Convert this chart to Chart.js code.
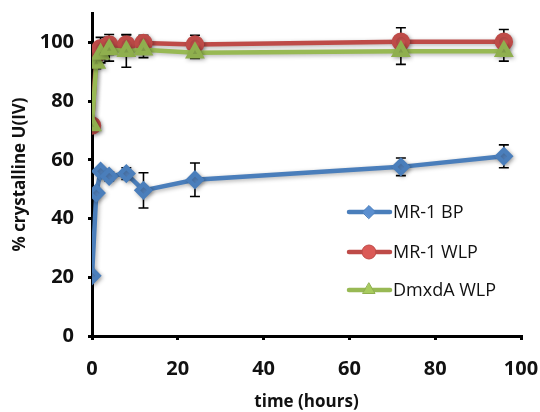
<!DOCTYPE html>
<html>
<head>
<meta charset="utf-8">
<script src="https://cdn.jsdelivr.net/npm/chart.js@4"></script>
<style>
  html, body { margin: 0; padding: 0; background: #fff; }
  canvas { display: block; }
</style>
</head>
<body>
<canvas id="chart" width="540" height="412"></canvas>
<script>
// time points (hours)
const times = [0, 1, 2, 4, 8, 12, 24, 72, 96];

// % crystalline U(IV) for each series
const bpValues  = [20.5, 48.7, 56.1, 54.4, 55.3, 49.6, 53.2, 57.6, 61.2];
const wlpValues = [71.7, 96.0, 98.0, 99.3, 99.3, 99.8, 99.3, 100.2, 100.2];
const dmxValues = [71.7, 93.0, 96.0, 97.6, 97.0, 97.5, 96.5, 97.0, 97.0];

// error bar half-lengths
const bpErr  = [0, 1, 1, 1.5, 2, 6, 5.7, 3, 3.9];
const wlpErr = [0, 0, 3.7, 3.4, 3.4, 2.6, 3.1, 4.8, 4.2];
const dmxErr = [0, 2, 3, 4, 5.5, 2.7, 2, 4.5, 3.4];

const xTicks = [0, 20, 40, 60, 80, 100];
const yTicks = [0, 20, 40, 60, 80, 100];

const seriesNames = ["MR-1 BP", "MR-1 WLP", "DmxdA WLP"];

function pts(vals) {
    return times.map((t, i) => ({ x: t, y: vals[i] }));
}

// error bars, drawn under the markers
const errorBars = {
    id: "errorBars",
    beforeDatasetsDraw(chart) {
        const ctx = chart.ctx;
        const xs = chart.scales.x, ys = chart.scales.y;
        ctx.save();
        ctx.strokeStyle = "#000";
        ctx.lineWidth = 1.6;
        chart.data.datasets.forEach(ds => {
            ds.errors.forEach((e, i) => {
                if (!e) return;
                const px = xs.getPixelForValue(times[i]);
                const top = ys.getPixelForValue(ds.data[i].y + e);
                const bot = ys.getPixelForValue(ds.data[i].y - e);
                ctx.beginPath();
                ctx.moveTo(px, top); ctx.lineTo(px, bot);
                ctx.moveTo(px - 5, top); ctx.lineTo(px + 5, top);
                ctx.moveTo(px - 5, bot); ctx.lineTo(px + 5, bot);
                ctx.stroke();
            });
        });
        ctx.restore();
    }
};

// soft shadow like the excel marker effect
const shadow = {
    id: "shadow",
    beforeDatasetDraw(chart) {
        const ctx = chart.ctx;
        ctx.save();
        ctx.shadowColor = "rgba(0,0,0,0.3)";
        ctx.shadowBlur = 4;
        ctx.shadowOffsetX = 1.5;
        ctx.shadowOffsetY = 1.5;
    },
    afterDatasetDraw(chart) {
        chart.ctx.restore();
    }
};

// legend inside plot area
const innerLegend = {
    id: "innerLegend",
    afterDraw(chart) {
        const ctx = chart.ctx;
        const x0 = 349, rowY = [212, 252, 290];
        ctx.save();
        chart.data.datasets.forEach((ds, i) => {
            const y = rowY[i];
            ctx.strokeStyle = ds.borderColor;
            ctx.lineWidth = 4.5;
            ctx.lineCap = "round";
            ctx.beginPath();
            ctx.moveTo(x0, y); ctx.lineTo(x0 + 41, y);
            ctx.stroke();
            ctx.fillStyle = ds.pointBackgroundColor;
            ctx.strokeStyle = ds.pointBorderColor;
            ctx.lineWidth = 1;
            Chart.helpers.drawPoint(ctx, {
                pointStyle: ds.pointStyle,
                radius: ds.pointRadius,
                borderWidth: 1
            }, x0 + 20, y);
            ctx.fillStyle = "#111";
            ctx.font = "18px 'Open Sans'";
            ctx.textBaseline = "middle";
            ctx.fillText(seriesNames[i], x0 + 44, y + 1);
        });
        ctx.restore();
    }
};

const ctx = document.getElementById("chart").getContext("2d");
const chart = new Chart(ctx, {
    type: "scatter",
    data: {
        datasets: [
            {
                label: seriesNames[0],
                data: pts(bpValues),
                errors: bpErr,
                showLine: true,
                borderColor: "#4A7EBB",
                borderWidth: 4.5,
                pointStyle: "rectRot",
                pointRadius: 6.5,
                pointBackgroundColor: "#5B8FD0",
                pointBorderColor: "#4A7EBB",
                order: 0
            },
            {
                label: seriesNames[1],
                data: pts(wlpValues),
                errors: wlpErr,
                showLine: true,
                borderColor: "#BE4B48",
                borderWidth: 4.5,
                pointStyle: "circle",
                pointRadius: 7,
                pointBackgroundColor: "#DB5A57",
                pointBorderColor: "#BE4B48",
                order: 2
            },
            {
                label: seriesNames[2],
                data: pts(dmxValues),
                errors: dmxErr,
                showLine: true,
                borderColor: "#98B954",
                borderWidth: 4.5,
                pointStyle: "triangle",
                pointRadius: 7,
                pointBackgroundColor: "#A8CB5E",
                pointBorderColor: "#8FAF4E",
                order: 1
            }
        ]
    },
    options: {
        responsive: false,
        animation: false,
        devicePixelRatio: 1,
        layout: { padding: { left: 0, right: 19, top: 13, bottom: 0 } },
        plugins: {
            legend: { display: false },
            tooltip: { enabled: false }
        },
        scales: {
            x: {
                type: "linear",
                min: 0,
                max: 100,
                afterBuildTicks(axis) { axis.ticks = xTicks.map(v => ({ value: v })); },
                afterFit(axis) {
                    axis.height = 76;
                    axis.paddingLeft = 0;
                    axis.paddingRight = 0;
                },
                border: { color: "#000", width: 3 },
                grid: { drawOnChartArea: false, color: "#000", lineWidth: 3, tickLength: 4 },
                ticks: {
                    color: "#111",
                    font: { family: "'Open Sans'", size: 20, weight: "bold" },
                    padding: 17,
                    maxRotation: 0
                },
                title: {
                    display: true,
                    text: "time (hours)",
                    color: "#111",
                    font: { family: "'Open Sans'", size: 17, weight: "bold" },
                    padding: { top: 0, bottom: 0 }
                }
            },
            y: {
                type: "linear",
                min: 0,
                max: 110,
                afterBuildTicks(axis) { axis.ticks = yTicks.map(v => ({ value: v })); },
                afterFit(axis) {
                    axis.width = 92;
                    axis.paddingTop = 0;
                    axis.paddingBottom = 0;
                },
                border: { color: "#000", width: 3 },
                grid: { drawOnChartArea: false, color: "#000", lineWidth: 3, tickLength: 4 },
                ticks: {
                    color: "#111",
                    font: { family: "'Open Sans'", size: 20, weight: "bold" },
                    padding: 14
                },
                title: {
                    display: true,
                    text: "% crystalline U(IV)",
                    color: "#111",
                    font: { family: "'Open Sans'", size: 17, weight: "bold" },
                    padding: { top: 10, bottom: 0 }
                }
            }
        }
    },
    plugins: [errorBars, shadow, innerLegend]
});
</script>
</body>
</html>
